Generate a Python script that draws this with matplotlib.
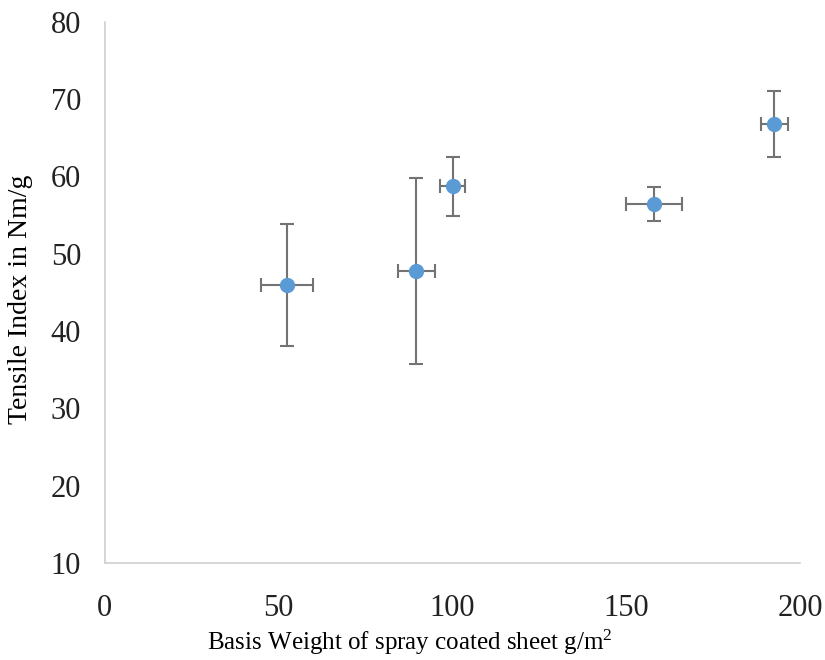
import matplotlib.pyplot as plt

# basis weight (g/m2) vs tensile index (Nm/g)
basis_weight = [52.4, 89.6, 100.1, 158.0, 192.5]
tensile_index = [46.0, 47.8, 58.7, 56.4, 66.8]
x_err = [7.5, 5.3, 3.6, 8.0, 3.9]
y_err = [7.9, 12.0, 3.8, 2.2, 4.3]

plt.rcParams['font.family'] = ['Liberation Serif', 'DejaVu Serif']
plt.rcParams['mathtext.fontset'] = 'custom'
plt.rcParams['mathtext.rm'] = 'Liberation Serif'
plt.rcParams['mathtext.it'] = 'Liberation Serif:italic'

fig = plt.figure(figsize=(8.25, 6.6), dpi=100)
ax = fig.add_axes([0.127, 0.147, 0.843, 0.820])

ax.errorbar(basis_weight, tensile_index, xerr=x_err, yerr=y_err,
            fmt='o', color='#5B9BD5', markersize=10, ecolor='#737373',
            elinewidth=1.5, capsize=5, capthick=1.5, zorder=3)

ax.set_xlim(0, 200)
ax.set_ylim(10, 80)
ax.set_xticks([0, 50, 100, 150, 200])
ax.set_yticks([10, 20, 30, 40, 50, 60, 70, 80])
ax.tick_params(length=0, labelsize=22, colors='#222222')
ax.tick_params(axis='y', pad=17)
ax.tick_params(axis='x', pad=22)

for side in ['top', 'right']:
    ax.spines[side].set_visible(False)
for side in ['left', 'bottom']:
    ax.spines[side].set_color('#d0d0d0')
    ax.spines[side].set_linewidth(1.2)

ax.set_xlabel('Basis Weight of spray coated sheet g/m$^{\\mathrm{2}}$', fontsize=18)
ax.set_ylabel('Tensile Index in Nm/g', fontsize=20)
ax.xaxis.set_label_coords(0.439, -0.12)
ax.yaxis.set_label_coords(-0.103, 0.488)

fig.savefig('out.png', dpi=100)
